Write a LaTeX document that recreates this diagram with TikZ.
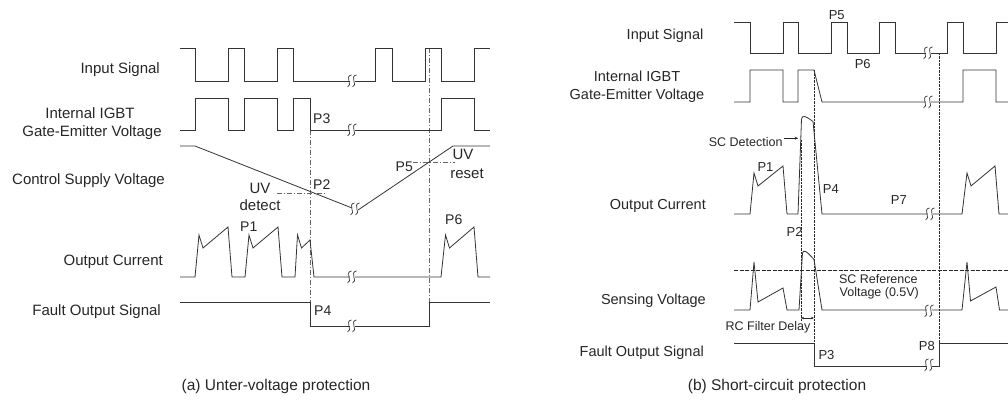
\documentclass[tikz,border=0pt]{standalone}
\usepackage{fontspec}
\setmainfont{Liberation Sans}
\usetikzlibrary{arrows.meta}
\begin{document}
\begin{tikzpicture}[x=1pt,y=-1pt,
  wave/.style={line width=0.8pt, black!80, line join=miter},
  dd/.style={line width=0.6pt, black!60, dash pattern=on 5pt off 2pt on 1pt off 2pt},
  rd/.style={line width=0.6pt, black!85, dash pattern=on 2.5pt off 1pt},
  refd/.style={line width=0.6pt, black!85, dash pattern=on 4pt off 1.5pt},
  lblL/.style={font=\fontsize{15}{18}\selectfont, inner sep=0, text=black!85},
  lblR/.style={font=\fontsize{14.5}{17}\selectfont, inner sep=0, text=black!85},
  pL/.style={font=\fontsize{14}{16}\selectfont, inner sep=0, text=black!85},
  pR/.style={font=\fontsize{13}{15}\selectfont, inner sep=0, text=black!85},
  sm/.style={font=\fontsize{12.5}{14}\selectfont, inner sep=0, text=black!85},
  captxt/.style={font=\fontsize{15.5}{18}\selectfont, inner sep=0, text=black!85},
  brk/.pic={
    \fill[white] (-2.5,-5) rectangle (2.5,5);
    \draw[line width=0.7pt, black!80] (-4.5,6) .. controls (1.5,5) and (-8,-5) .. (-0.5,-6);
    \draw[line width=0.7pt, black!80] (0.5,6) .. controls (6.5,5) and (-3,-5) .. (4.5,-6);
  }
]
\useasboundingbox (0,0) rectangle (1008,411);

%================ LEFT (a) =================
\node[lblL, anchor=base east] (lin) at (160,73.5) {Input Signal};
\node[lblL, anchor=base] (lg1) at (90,119) {Internal IGBT};
\node[lblL, anchor=base] (lg2) at (92,136.5) {Gate-Emitter Voltage};
\node[lblL, anchor=base east] (lcs) at (165,185) {Control Supply Voltage};
\node[lblL, anchor=base east] (loc) at (163,265.5) {Output Current};
\node[lblL, anchor=base east] (lfo) at (161,315) {Fault Output Signal};

\draw[dd] (310,130) -- (310,302);
\draw[dd] (429,48) -- (429,302);
\draw[dd] (277,193) -- (325,193);
\draw[dd] (413,162) -- (455,162);

\draw[wave] (180,48)--(195,48)--(195,81)--(228,81)--(228,48)--(244,48)--(244,81)--(277,81)--(277,48)--(293,48)--(293,81)--(375,81)--(375,48)--(392,48)--(392,81)--(425,81)--(425,48)--(441,48)--(441,81)--(474,81)--(474,48)--(490,48);
\pic at (352,81) {brk};
\draw[wave] (180,130)--(195,130)--(195,98)--(228,98)--(228,130)--(244,130)--(244,98)--(277,98)--(277,130)--(293,130)--(293,98)--(310,98)--(310,130)--(441,130)--(441,98)--(474,98)--(474,130)--(490,130);
\pic at (352,130) {brk};
\draw[wave] (180,146)--(195,146)--(352,208);
\draw[wave] (358,210)--(453,146)--(490,146);
\pic at (355,209) {brk};
\draw[wave] (180,277)--(195,277)--(199,235)--(203,248)--(228,227)--(232,277)--(245,277)--(249,235)--(253,248)--(278,227)--(282,277)--(295,277)--(297.5,235)--(301.5,248)--(310,240)--(314,277)--(441,277)--(445.5,235)--(449.5,248)--(474,227)--(478,277)--(490,277);
\pic at (352,277) {brk};
\draw[wave] (180,302)--(310,302)--(310,326)--(429,326)--(429,302)--(490,302);
\pic at (352,326) {brk};

\node[pL, anchor=base west] (a3) at (313,124) {P3};
\node[pL, anchor=base west] (a2) at (313,189.3) {P2};
\node[pL, anchor=base east] (a5) at (413,171.7) {P5};
\node[pL, anchor=base west] (a1) at (240,231.7) {P1};
\node[pL, anchor=base west] (a6) at (445,225) {P6};
\node[pL, anchor=base west] (a4) at (314,315) {P4};
\node[lblL, anchor=base] (uvd1) at (260,193.3) {UV};
\node[lblL, anchor=base] (uvd2) at (260,211) {detect};
\node[lblL, anchor=base] (uvr1) at (463,160) {UV};
\node[lblL, anchor=base] (uvr2) at (467,178.3) {reset};

\node[captxt, anchor=base] (capa) at (276,390) {(a) Unter-voltage protection};

%================ RIGHT (b) =================
\node[lblR, anchor=base east] (rin) at (703.5,39.5) {Input Signal};
\node[lblR, anchor=base] (rg1) at (637,81.7) {Internal IGBT};
\node[lblR, anchor=base] (rg2) at (637,100) {Gate-Emitter Voltage};
\node[lblR, anchor=base east] (roc) at (706,210) {Output Current};
\node[lblR, anchor=base east] (rsv) at (706,305) {Sensing Voltage};
\node[lblR, anchor=base east] (rfo) at (704,356.7) {Fault Output Signal};

\draw[refd] (734,270) -- (1008,270);
\draw[rd] (801,140) -- (801,322);
\draw[rd] (814,70) -- (814,343);
\draw[rd] (939,53) -- (939,343);

\draw[wave] (734,22)--(750,22)--(750,53)--(783,53)--(783,22)--(798,22)--(798,53)--(831,53)--(831,22)--(847,22)--(847,53)--(879,53)--(879,22)--(895,22)--(895,53)--(947,53)--(947,22)--(963,22)--(963,53)--(996,53)--(996,22)--(1008,22);
\pic at (928,53) {brk};
\draw[wave] (734,102)--(750,102)--(750,70)--(783,70)--(783,102)--(798,102)--(798,70)--(814,70)--(822,102)--(963,102)--(963,70)--(996,70)--(996,102)--(1008,102);
\pic at (928,102) {brk};
\draw[wave] (734,214)--(750,214)--(754,173)--(758,186)--(783,166)--(787,214)--(798,214)--(801.5,119) .. controls (802.5,115) and (805,115.5) .. (813,121.5)--(822,214)--(962,214)--(967,173)--(971,186)--(995,166)--(999,214)--(1008,214);
\pic at (930,214) {brk};
\draw[wave] (734,310)--(750,310)--(754,262)--(758,302)--(783,288)--(787,310)--(799,310)--(802.5,253) .. controls (803.5,249.5) and (806,250.5) .. (814,259.5)--(822,310)--(962,310)--(967,262)--(970.5,301)--(996,287)--(999.5,310)--(1008,310);
\pic at (929,311) {brk};
\draw[wave] (734,343)--(814,343)--(814,366)--(939,366)--(939,343)--(1008,343);
\pic at (929,365) {brk};

\node[pR, anchor=base] (b5) at (836.7,20) {P5};
\node[pR, anchor=base] (b6) at (862.7,68.3) {P6};
\node[pR, anchor=base] (b1) at (765.5,171.7) {P1};
\node[pR, anchor=base west] (b4) at (822.7,193.3) {P4};
\node[pR, anchor=base west] (b7) at (890.7,205) {P7};
\node[pR, anchor=base west] (b2) at (786.5,236.7) {P2};
\node[pR, anchor=base west] (b3) at (818.3,359.3) {P3};
\node[pR, anchor=base east] (b8) at (935,350.7) {P8};
\node[sm, anchor=base east] (scd) at (782.7,146.7) {SC Detection};
\draw[line width=0.6pt, black!85, -{Stealth[length=3.5pt,width=3pt]}] (scd.east) ++(1.5,-4) -- ++(14,0);
\node[sm, anchor=base] (scr1) at (878.3,283.3) {SC Reference};
\node[sm, anchor=base] (scr2) at (879.3,296.7) {Voltage (0.5V)};
\node[sm, anchor=base] (rcf) at (768,330) {RC Filter Delay};
\coordinate (rcA) at (801,318);
\coordinate (rcB) at (814,318);
\draw[line width=0.5pt, black!85, {Stealth[length=3pt,width=2.5pt]}-{Stealth[length=3pt,width=2.5pt]}] (rcA) -- (rcB);

\node[captxt, anchor=base] (capb) at (777,390) {(b) Short-circuit protection};
\end{tikzpicture}
\end{document}
